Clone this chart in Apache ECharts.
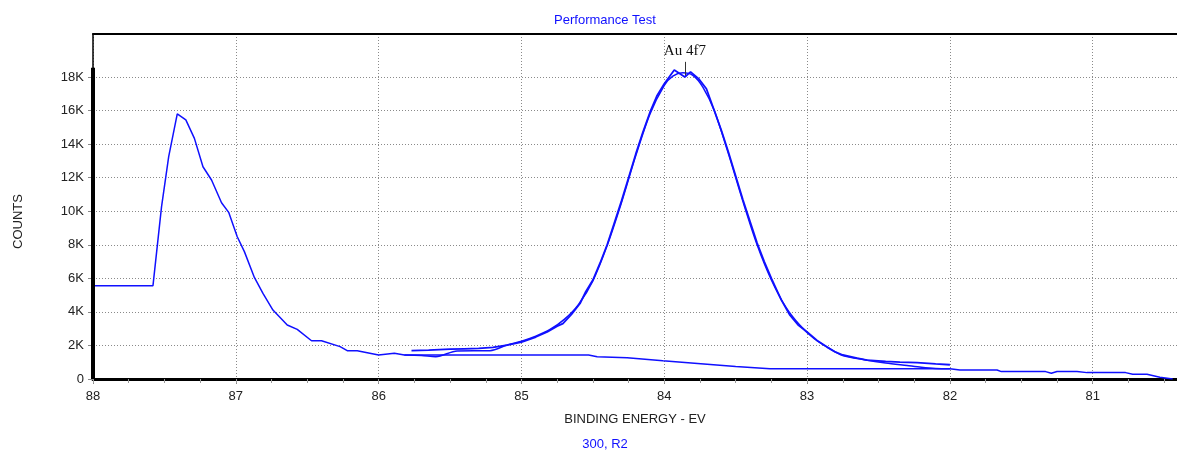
<!DOCTYPE html>
<html>
<head>
<meta charset="utf-8">
<script src="https://cdn.jsdelivr.net/npm/echarts@6/dist/echarts.min.js"></script>
<style>
  html, body { margin: 0; padding: 0; background: #fff; }
  #chart { width: 1177px; height: 451px; }
</style>
</head>
<body>
<div id="chart"></div>
<script>
// full spectrum: raw data on the left, background under the peak, raw data on the right (eV, counts)
var spectrumEnergy = [88.0, 87.58, 87.52, 87.47, 87.41, 87.35, 87.29, 87.23, 87.17, 87.10, 87.05, 86.99, 86.94, 86.87, 86.81, 86.74, 86.64, 86.57, 86.47, 86.40, 86.27, 86.22, 86.15, 86.0, 85.89, 85.82, 84.53, 84.47, 84.26, 84.01, 83.70, 83.50, 83.26, 82.0, 81.93, 81.67, 81.64, 81.33, 81.29, 81.25, 81.11, 81.04, 80.77, 80.72, 80.62, 80.53, 80.44];
var spectrumCounts = [5560, 5560, 10270, 13250, 15800, 15440, 14340, 12650, 11860, 10500, 9930, 8480, 7590, 6050, 5100, 4110, 3220, 2960, 2280, 2280, 1930, 1690, 1690, 1430, 1530, 1430, 1430, 1330, 1270, 1090, 880, 750, 610, 610, 540, 540, 440, 440, 340, 450, 450, 380, 380, 280, 280, 100, 0];

// Au 4f7 region, measured data
var peakEnergy = [85.77, 85.65, 85.5, 85.4, 85.3, 85.2, 85.1, 85.0, 84.9, 84.82, 84.75, 84.71, 84.65, 84.59, 84.55, 84.5, 84.45, 84.4, 84.35, 84.3, 84.25, 84.2, 84.15, 84.1, 84.05, 84.0, 83.93, 83.856, 83.816, 83.76, 83.705, 83.65, 83.6, 83.55, 83.5, 83.45, 83.4, 83.35, 83.3, 83.25, 83.18, 83.12, 83.06, 83.0, 82.93, 82.86, 82.8, 82.75, 82.65, 82.58, 82.45, 82.35, 82.23, 82.1, 82.0];
var peakCounts = [1690, 1720, 1780, 1800, 1820, 1880, 2020, 2200, 2500, 2800, 3150, 3300, 3850, 4500, 5200, 5900, 6900, 8000, 9300, 10600, 12000, 13400, 14700, 15900, 16900, 17600, 18410, 18000, 18300, 17900, 17300, 16000, 14800, 13500, 12100, 10700, 9400, 8100, 7000, 6000, 4700, 3800, 3200, 2800, 2300, 1900, 1600, 1430, 1250, 1130, 1050, 1000, 970, 900, 850];

// Au 4f7 region, fitted envelope
var fitEnergy = [85.82, 85.7, 85.6, 85.45, 85.22, 85.1, 85.0, 84.9, 84.8, 84.7, 84.6, 84.5, 84.4, 84.3, 84.2, 84.1, 84.0, 83.94, 83.87, 83.8, 83.73, 83.65, 83.55, 83.45, 83.35, 83.25, 83.15, 83.05, 82.95, 82.85, 82.75, 82.6, 82.45, 82.3, 82.2, 82.1, 82.0];
var fitCounts = [1430, 1400, 1330, 1670, 1690, 2030, 2250, 2550, 2950, 3550, 4450, 5850, 7950, 10500, 13300, 15800, 17500, 18050, 18250, 18100, 17400, 16000, 13400, 10600, 8000, 5900, 4300, 3200, 2400, 1850, 1400, 1150, 950, 800, 700, 630, 610];

var xTicks = [81, 82, 83, 84, 85, 86, 87, 88];
var yTicks = [0, 2000, 4000, 6000, 8000, 10000, 12000, 14000, 16000, 18000];
var peakLabel = 'Au 4f7';
var peakMarkEnergy = 83.856;
var peakMarkRange = [18050, 18900];

function pairs(xs, ys) {
  return xs.map(function (x, i) { return [x, ys[i]]; });
}

var minorTicks = [];
for (var t = 80.5; t <= 88.001; t += 0.25) minorTicks.push(Math.round(t * 100) / 100);

var blue = '#1010ff';
var font = 'Liberation Sans, Arial, sans-serif';
var grid = { color: '#8a8a8a', type: [1, 2], width: 1 };

var myChart = echarts.init(document.getElementById('chart'));

myChart.setOption({
  animation: false,
  backgroundColor: '#fff',
  title: [
    {
      text: 'Performance Test',
      left: 600, top: 9, textAlign: 'center',
      textStyle: { color: blue, fontSize: 13, fontWeight: 'normal', fontFamily: font }
    },
    {
      text: '300, R2',
      left: 600, top: 433, textAlign: 'center',
      textStyle: { color: blue, fontSize: 13, fontWeight: 'normal', fontFamily: font }
    }
  ],
  grid: { left: 93, right: 0, top: 34, bottom: 72, containLabel: false },
  xAxis: [
    {
      type: 'value',
      inverse: true,
      min: 80.41,
      max: 88,
      name: 'BINDING ENERGY - EV',
      nameLocation: 'middle',
      nameGap: 34,
      nameTextStyle: { color: '#222', fontSize: 13, fontFamily: font },
      axisLine: { show: true, onZero: false, lineStyle: { color: '#000', width: 3 } },
      axisTick: { show: true, customValues: xTicks, length: 5, lineStyle: { color: '#888' } },
      axisLabel: {
        customValues: xTicks, color: '#222', fontSize: 13, fontFamily: font, margin: 11,
        formatter: function (v) { return String(v); }
      },
      splitLine: { show: true, lineStyle: grid }
    },
    {
      type: 'value',
      inverse: true,
      min: 80.41,
      max: 88,
      position: 'bottom',
      axisLine: { show: false },
      axisTick: { show: true, customValues: minorTicks, length: 4, lineStyle: { color: '#999' } },
      axisLabel: { show: false },
      splitLine: { show: false }
    },
    {
      type: 'value',
      inverse: true,
      min: 80.41,
      max: 88,
      position: 'top',
      axisLine: { show: true, onZero: false, lineStyle: { color: '#000', width: 2 } },
      axisTick: { show: false },
      axisLabel: { show: false },
      splitLine: { show: false }
    }
  ],
  yAxis: {
    type: 'value',
    min: 0,
    max: 20560,
    name: 'COUNTS',
    nameLocation: 'middle',
    nameGap: 68,
    nameRotate: 90,
    nameTextStyle: { color: '#222', fontSize: 13, fontFamily: font, padding: [0, 30, 0, 0] },
    axisLine: { show: true, onZero: false, lineStyle: { color: '#000', width: 1.5 } },
    axisTick: { show: true, customValues: yTicks, length: 5, lineStyle: { color: '#888' } },
    axisLabel: {
      customValues: yTicks, color: '#222', fontSize: 13, fontFamily: font, margin: 9,
      formatter: function (v) { return v === 0 ? '0' : (v / 1000) + 'K'; }
    },
    splitLine: { show: true, lineStyle: grid }
  },
  series: [
    {
      name: 'Spectrum',
      type: 'line',
      data: pairs(spectrumEnergy, spectrumCounts),
      showSymbol: false,
      lineStyle: { color: blue, width: 1.5 },
      z: 3,
      // heavy left axis segment, drawn up to just above the 18K line
      markLine: {
        silent: true,
        symbol: 'none',
        label: { show: false },
        lineStyle: { color: '#000', width: 4, type: 'solid' },
        data: [[{ coord: [88, 0] }, { coord: [88, 18550] }]]
      }
    },
    {
      name: 'Fit',
      type: 'line',
      data: pairs(fitEnergy, fitCounts),
      showSymbol: false,
      smooth: 0.3,
      lineStyle: { color: blue, width: 1.5 },
      z: 4,
      markLine: {
        silent: true,
        symbol: 'none',
        lineStyle: { color: '#333', width: 1, type: 'solid' },
        label: {
          show: true, position: 'end', formatter: peakLabel, distance: 3,
          color: '#111', fontSize: 15, fontFamily: 'Liberation Serif, Times New Roman, serif'
        },
        data: [[
          { coord: [peakMarkEnergy, peakMarkRange[0]] },
          { coord: [peakMarkEnergy, peakMarkRange[1]] }
        ]]
      }
    },
    {
      name: 'Data',
      type: 'line',
      data: pairs(peakEnergy, peakCounts),
      showSymbol: false,
      lineStyle: { color: blue, width: 1.8 },
      z: 5
    }
  ]
});
</script>
</body>
</html>
